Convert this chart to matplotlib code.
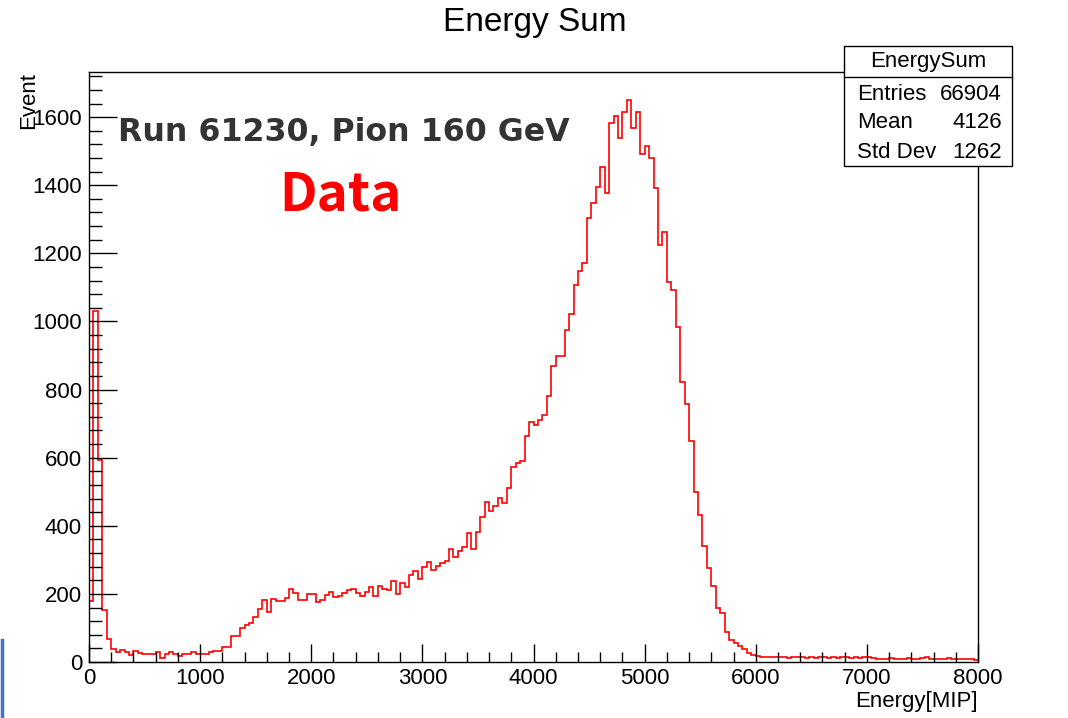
import numpy as np
import matplotlib
matplotlib.use("Agg")
import matplotlib.pyplot as plt
from matplotlib.ticker import MultipleLocator
from matplotlib.patches import Rectangle
from matplotlib.lines import Line2D

# histogram: 200 bins of 40 MIP from 0 to 8000
bin_width = 40
counts = [
    180, 1032, 594, 153, 67, 38, 30, 35, 30, 21,
    33, 25, 24, 24, 24, 29, 11, 24, 29, 24,
    18, 24, 24, 28, 24, 24, 24, 30, 33, 33,
    43, 43, 76, 76, 101, 109, 114, 132, 156, 182,
    148, 185, 180, 178, 188, 215, 204, 182, 182, 200,
    200, 176, 182, 197, 207, 192, 194, 203, 210, 215,
    203, 195, 207, 221, 195, 224, 215, 212, 239, 200,
    232, 220, 256, 268, 244, 280, 295, 270, 282, 290,
    297, 331, 308, 327, 339, 380, 331, 383, 425, 471,
    442, 457, 481, 467, 511, 573, 584, 589, 663, 704,
    697, 710, 726, 782, 869, 898, 898, 975, 1021, 1107,
    1148, 1171, 1305, 1349, 1395, 1454, 1376, 1584, 1604, 1540,
    1616, 1650, 1567, 1616, 1491, 1516, 1481, 1391, 1224, 1263,
    1116, 1091, 983, 822, 759, 649, 498, 431, 341, 277,
    222, 160, 145, 89, 65, 55, 47, 37, 27, 21,
    18, 16, 14, 14, 14, 16, 14, 13, 16, 14,
    15, 13, 16, 12, 15, 14, 13, 15, 12, 14,
    16, 13, 15, 12, 14, 16, 12, 9, 10, 9,
    11, 9, 10, 8, 12, 10, 9, 11, 14, 8,
    9, 10, 9, 11, 10, 8, 9, 10, 8, 7,
]
edges = np.arange(len(counts) + 1) * bin_width

stats_labels = ["Entries", "Mean", "Std Dev"]
stats_values = ["66904", "4126", "1262"]

fig = plt.figure(figsize=(10.68, 7.18), dpi=100)
W, H = 1068, 718
ax = fig.add_axes([89 / W, 1 - 662 / H, (978 - 89) / W, (662 - 72) / H])

ax.stairs(counts, edges, color="red", lw=1.2, baseline=None)

ax.set_xlim(0, 8000)
ax.set_ylim(0, 1.05 * max(counts))
ax.xaxis.set_major_locator(MultipleLocator(1000))
ax.xaxis.set_minor_locator(MultipleLocator(200))
ax.yaxis.set_major_locator(MultipleLocator(200))
ax.yaxis.set_minor_locator(MultipleLocator(40))

rfont = "Liberation Sans"
ax.tick_params(axis="x", which="major", direction="in", length=13, width=1,
               pad=4, labelsize=16, top=False)
ax.tick_params(axis="x", which="minor", direction="in", length=7, width=1, top=False)
ax.tick_params(axis="y", which="major", direction="in", length=20, width=1,
               pad=5, labelsize=16, right=False)
ax.tick_params(axis="y", which="minor", direction="in", length=9.5, width=1, right=False)
for lab in ax.get_xticklabels() + ax.get_yticklabels():
    lab.set_fontfamily(rfont)
for s in ax.spines.values():
    s.set_linewidth(1)

ax.set_xlabel("Energy[MIP]", fontsize=16, fontfamily=rfont, loc="right", labelpad=2)
ax.set_ylabel("Event", fontsize=16, fontfamily=rfont, loc="top", labelpad=-5)

fig.text(535 / W, 1 - 23 / H, "Energy Sum", fontsize=24, fontfamily=rfont,
         ha="center", va="center")

# stats box
bx0, bx1, by0, by1 = 844, 1012, 46, 166
fig.add_artist(Rectangle((bx0 / W, 1 - by1 / H), (bx1 - bx0) / W, (by1 - by0) / H,
                         transform=fig.transFigure, facecolor="white",
                         edgecolor="black", lw=1))
fig.add_artist(Line2D([bx0 / W, bx1 / W], [1 - 77 / H, 1 - 77 / H],
                      transform=fig.transFigure, color="black", lw=1))
fig.text((bx0 + bx1) / 2 / W, 1 - 61 / H, "EnergySum", fontsize=16,
         fontfamily=rfont, ha="center", va="center")
for i, (lab, val) in enumerate(zip(stats_labels, stats_values)):
    y = 1 - (94 + 29 * i) / H
    fig.text(857 / W, y, lab, fontsize=16, fontfamily=rfont, ha="left", va="center")
    fig.text(1002 / W, y, val, fontsize=16, fontfamily=rfont, ha="right", va="center")

# slide overlay texts
fig.text(118 / W, 1 - 132 / H, "Run 61230, Pion 160 GeV", fontsize=22.8,
         fontweight="bold", color="#333333", family="DejaVu Sans",
         ha="left", va="center")
fig.text(340 / W, 1 - 195 / H, "Data", fontsize=38, fontweight="bold",
         color="#ff0000", family=["Noto Sans CJK JP", "DejaVu Sans"],
         ha="center", va="center")

fig.add_artist(Line2D([1.5 / W, 1.5 / W], [0, 1 - 640 / H], transform=fig.transFigure,
                      color="#4472c4", lw=2.5))

fig.savefig("out.png", dpi=100)
